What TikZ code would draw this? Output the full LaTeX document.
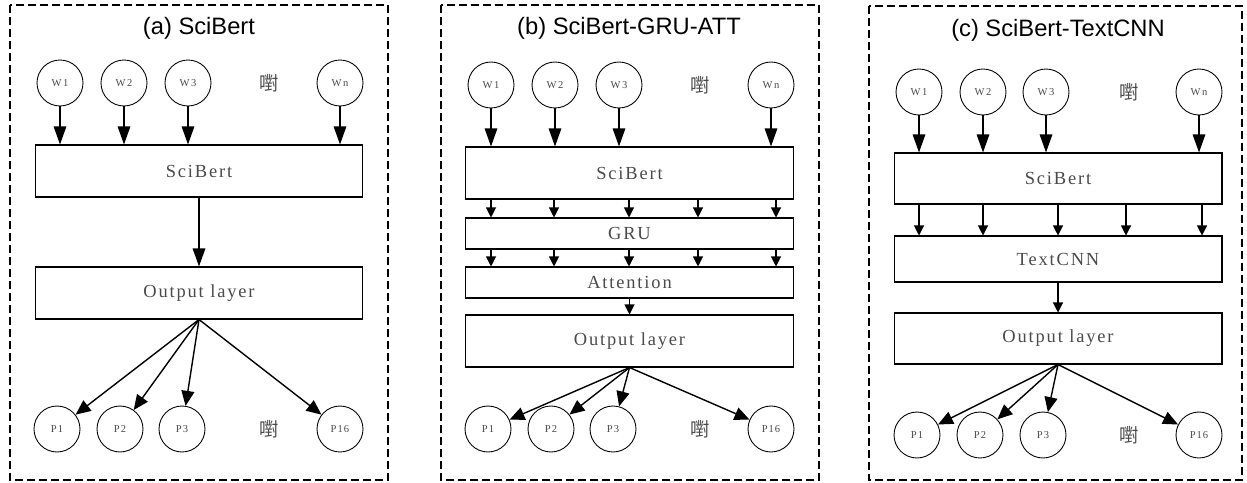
\documentclass[tikz,border=0pt]{standalone}
\usepackage{fontspec}
\setmainfont{Liberation Serif}
\newfontfamily\titlefont{Liberation Sans}
\newfontfamily\lblfont[LetterSpace=10]{Liberation Serif}
\newfontfamily\cjk{Noto Sans CJK SC}
\usepackage{tikz}
\usetikzlibrary{arrows.meta,positioning}
\definecolor{lblgray}{HTML}{4A4A4A}

\begin{document}
\begin{tikzpicture}[x=0.02cm,y=-0.02cm]
  \tikzstyle{panel}=[draw,dash pattern=on 0.16cm off 0.08cm,line width=0.6pt]
  \tikzstyle{word}=[circle,draw,line width=0.5pt,minimum size=0.92cm,inner sep=0pt,
                    font=\lblfont\fontsize{6}{7}\selectfont,text=lblgray]
  \tikzstyle{layer}=[rectangle,draw,line width=0.6pt,minimum width=6.56cm,inner sep=0pt,
                     font=\lblfont\fontsize{10.5}{12}\selectfont,text=lblgray]
  \tikzstyle{dots}=[font=\cjk\fontsize{11}{12}\selectfont,text=lblgray]
  \tikzstyle{title}=[font=\titlefont\fontsize{13.5}{15}\selectfont]
  \tikzstyle{feed}=[-{Triangle[length=0.36cm,width=0.25cm]},line width=0.8pt]
  \tikzstyle{fan}=[-{Triangle[length=0.3cm,width=0.26cm]},line width=0.8pt]
  \tikzstyle{pass}=[-{Triangle[length=0.2cm,width=0.2cm]},line width=0.6pt]

  \useasboundingbox (0,0) rectangle (1247,483);

  % (a) SciBert
  \begin{scope}
    \draw[panel] (10,5) rectangle (388,480);
    \node[title] (ta) at (199,28) {(a) SciBert};
    \node[word] (aw1) at (60,83) {W\,1};
    \node[word] (aw2) at (124,83) {W\,2};
    \node[word] (aw3) at (188,83) {W\,3};
    \node[dots] (awd) at (269,83) {嚉};
    \node[word] (awn) at (340,83) {W\,n};
    \node[layer,minimum height=1.04cm] (asci) at (199,171) {SciBert};
    \node[layer,minimum height=1.04cm] (aout) at (199,293) {Output layer};
    \node[word] (ap1) at (57,429) {P1};
    \node[word] (ap2) at (120,429) {P2};
    \node[word] (ap3) at (182,429) {P3};
    \node[dots] (apd) at (269,429) {嚉};
    \node[word] (ap16) at (340,429) {P16};
    \foreach \w in {aw1,aw2,aw3,awn}
      \draw[feed] (\w) -- (\w |- asci.north);
    \draw[feed] (asci.south) -- (aout.north);
    \foreach \p in {ap1,ap2,ap3,ap16}
      \draw[fan] (aout.south) -- (\p);
  \end{scope}

  % (b) SciBert-GRU-ATT
  \begin{scope}
    \draw[panel] (441,5) rectangle (819,480);
    \node[title] (tb) at (629,28) {(b) SciBert-GRU-ATT};
    \node[word] (bw1) at (491,85) {W\,1};
    \node[word] (bw2) at (555,85) {W\,2};
    \node[word] (bw3) at (619,85) {W\,3};
    \node[dots] (bwd) at (700,85) {嚉};
    \node[word] (bwn) at (771,85) {W\,n};
    \node[layer,minimum height=1.04cm] (bsci) at (629.5,173) {SciBert};
    \node[layer,minimum height=0.62cm] (bgru) at (629.5,233.5) {GRU};
    \node[layer,minimum height=0.62cm] (batt) at (629.5,282.5) {Attention};
    \node[layer,minimum height=1.04cm] (bout) at (629.5,341) {Output layer};
    \node[word] (bp1) at (488,429) {P1};
    \node[word] (bp2) at (551,429) {P2};
    \node[word] (bp3) at (613,429) {P3};
    \node[dots] (bpd) at (700,429) {嚉};
    \node[word] (bp16) at (771,429) {P16};
    \foreach \w in {bw1,bw2,bw3,bwn}
      \draw[feed] (\w) -- (\w |- bsci.north);
    \foreach \x in {491,554,629,698,776} {
      \draw[pass] (bsci.south -| \x,0) -- (bgru.north -| \x,0);
      \draw[pass] (bgru.south -| \x,0) -- (batt.north -| \x,0);
    }
    \draw[pass] (batt.south) -- (bout.north);
    \foreach \p in {bp1,bp2,bp3,bp16}
      \draw[fan] (bout.south) -- (\p);
  \end{scope}

  % (c) SciBert-TextCNN
  \begin{scope}
    \draw[panel] (869,6) rectangle (1242,480);
    \node[title] (tc) at (1058,30) {(c) SciBert-TextCNN};
    \node[word] (cw1) at (919,92) {W\,1};
    \node[word] (cw2) at (983,92) {W\,2};
    \node[word] (cw3) at (1046,92) {W\,3};
    \node[dots] (cwd) at (1129,92) {嚉};
    \node[word] (cwn) at (1199,92) {W\,n};
    \node[layer,minimum height=1.02cm] (csci) at (1058,178.5) {SciBert};
    \node[layer,minimum height=0.92cm] (ccnn) at (1058,259) {TextCNN};
    \node[layer,minimum height=1.02cm] (cout) at (1058,338.5) {Output layer};
    \node[word] (cp1) at (917,435) {P1};
    \node[word] (cp2) at (980,435) {P2};
    \node[word] (cp3) at (1043,435) {P3};
    \node[dots] (cpd) at (1129,435) {嚉};
    \node[word] (cp16) at (1199,435) {P16};
    \foreach \w in {cw1,cw2,cw3,cwn}
      \draw[feed] (\w) -- (\w |- csci.north);
    \foreach \x in {919,983,1058,1126,1202}
      \draw[pass] (csci.south -| \x,0) -- (ccnn.north -| \x,0);
    \draw[pass] (ccnn.south) -- (cout.north);
    \foreach \p in {cp1,cp2,cp3,cp16}
      \draw[fan] (cout.south) -- (\p);
  \end{scope}
\end{tikzpicture}
\end{document}
